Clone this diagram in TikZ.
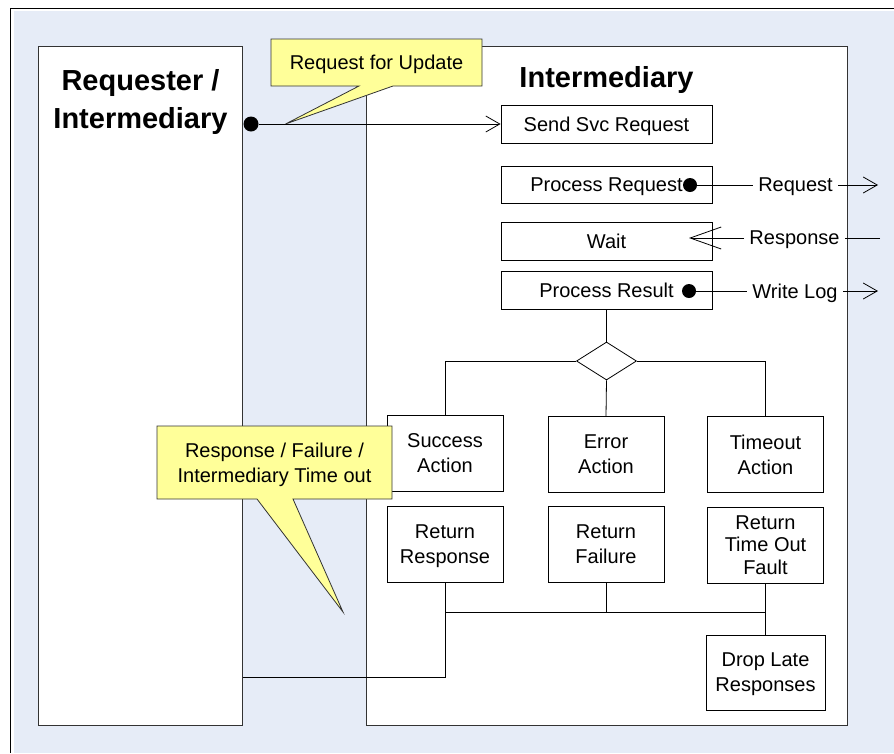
\documentclass[tikz,border=0pt]{standalone}
\usepackage{fontspec}
\setmainfont{Liberation Sans}
\usetikzlibrary{shapes.geometric, arrows.meta, positioning}

\definecolor{bgblue}{RGB}{230,236,247}
\definecolor{noteyellow}{RGB}{255,255,153}

\begin{document}
\begin{tikzpicture}[
  x=1pt, y=-1pt,
  line width=0.8pt,
  every node/.style={font=\fontsize{20}{25}\selectfont, text depth=0pt},
  lane/.style={rectangle, draw=black!80, fill=white, line width=0.9pt, inner sep=0pt},
  heading/.style={font=\fontsize{29}{38}\selectfont\bfseries, align=center},
  stepbox/.style={rectangle, draw, fill=white, minimum width=211pt, minimum height=38pt, inner sep=0pt},
  actbox/.style={rectangle, draw, fill=white, align=center, minimum width=116pt, minimum height=76pt, inner sep=0pt},
  choice/.style={diamond, draw, fill=white, minimum width=60pt, minimum height=38pt, inner sep=0pt},
  sig/.style={inner xsep=5pt, inner ysep=2pt},
  blob/.style={circle, fill, inner sep=0pt, minimum size=14pt},
  note/.style={fill=noteyellow, draw=black!80, line width=0.8pt, line join=miter},
  bigbarb/.style={-{Straight Barb[length=31pt,width=22pt]}},
  >={Straight Barb[length=14pt,width=16pt]}
]
\useasboundingbox (0,0) rectangle (894,753);

% Background
\fill[bgblue] (14,11) rectangle (894,753);
\draw[line width=1pt] (894,8) -- (10.5,8) -- (10.5,753);

% Lanes
\node[lane, minimum width=204pt, minimum height=679pt] (reqlane) at (140.5,385.5) {};
\node[lane, minimum width=481pt, minimum height=679pt] (intlane) at (606.5,385.5) {};
\node[heading] (reqtitle) at (140.5,99) {Requester /\\Intermediary};
\node[heading] (inttitle) at (606.5,77) {Intermediary};

% Nodes
\node[stepbox] (sendreq) at (606.5,124) {Send Svc Request};
\node[stepbox, minimum height=37pt] (procreq) at (606.5,184.5) {Process Request};
\node[stepbox] (wait) at (606.5,241) {Wait};
\node[stepbox] (procres) at (606.5,290) {Process Result};
\node[choice] (decide) at (606.5,361) {};

\node[actbox] (succ) at (445,453) {Success\\Action};
\node[actbox] (err) at (606,454.5) {Error\\Action};
\node[actbox] (tout) at (765.5,454.5) {Timeout\\Action};

\node[actbox] (retresp) at (445,544.5) {Return\\Response};
\node[actbox] (retfail) at (606,544.5) {Return\\Failure};
\node[actbox, font=\fontsize{20}{22.5}\selectfont] (retto) at (765.5,545) {Return\\Time Out\\Fault};
\node[actbox, minimum width=119pt, minimum height=75pt] (drop) at (765.5,672.5) {Drop Late\\Responses};

% Signals
\node[blob, minimum size=15pt] (upddot) at (251,124) {};
\node[blob] (reqdot) at (690,185) {};
\node[blob] (logdot) at (689,291) {};
\node[sig] (reqlbl) at (795.5,185) {Request};
\node[sig] (resplbl) at (794.5,238) {Response};
\node[sig] (loglbl) at (795,291) {Write Log};
\coordinate (reqout) at (878,185);
\coordinate (respin) at (880,238);
\coordinate (waitin) at (689,238);
\coordinate (logout) at (878,291);

% Arrows
\draw (reqdot) -- (reqlbl.west);
\draw[->] (reqlbl.east) -- (reqout);
\draw (respin) -- (resplbl.east);
\draw[bigbarb] (resplbl.west) -- (waitin);
\draw (logdot) -- (loglbl.west);
\draw[->] (loglbl.east) -- (logout);

\draw (procres.south) -- (decide.north);
\draw (decide.west) -| (succ.north);
\draw (decide.east) -| (tout.north);
\draw (decide.south) -- (err.north);

\coordinate (mergeL) at (445,612);
\coordinate (mergeR) at (765.5,612);
\coordinate (backturn) at (445,677);
\draw (retresp.south) -- (mergeL) -- (mergeR);
\draw (retfail.south) -- (retfail.south |- mergeL);
\draw (retto.south) -- (drop.north);
\draw (mergeL) -- (backturn) -- (backturn -| reqlane.east);

% Callouts
\filldraw[note] (271,39) -- (482,39) -- (482,86) -- (393,86) -- (285.5,124) -- (359,86) -- (271,86) -- cycle;
\node (updnote) at (376.5,62.5) {Request for Update};
\filldraw[note] (157,426) -- (392,426) -- (392,499) -- (293,499) -- (343,612) -- (257,499) -- (157,499) -- cycle;
\node[align=center] (resnote) at (274.5,462.5) {Response / Failure /\\Intermediary Time out};

\draw[->] (upddot) -- (sendreq.west);

\end{tikzpicture}
\end{document}
